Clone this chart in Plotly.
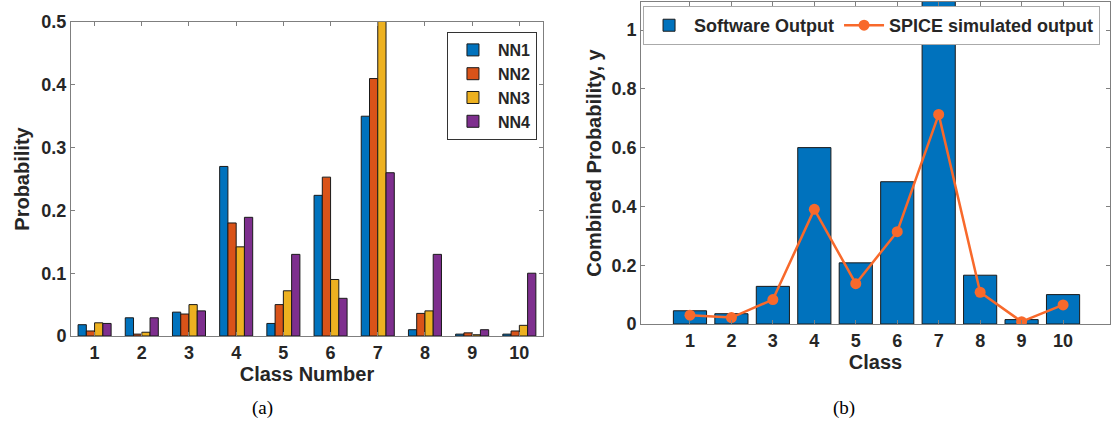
import plotly.graph_objects as go

classes = [1, 2, 3, 4, 5, 6, 7, 8, 9, 10]
nn1 = [0.018, 0.029, 0.038, 0.270, 0.020, 0.224, 0.350, 0.010, 0.003, 0.003]
nn2 = [0.008, 0.003, 0.035, 0.180, 0.050, 0.253, 0.410, 0.036, 0.005, 0.008]
nn3 = [0.021, 0.006, 0.050, 0.142, 0.072, 0.090, 0.520, 0.040, 0.002, 0.017]
nn4 = [0.020, 0.029, 0.040, 0.189, 0.130, 0.060, 0.260, 0.130, 0.010, 0.100]
software_output = [0.045, 0.035, 0.128, 0.600, 0.208, 0.484, 1.130, 0.166, 0.015, 0.100]
spice_output = [0.030, 0.022, 0.083, 0.390, 0.137, 0.314, 0.713, 0.108, 0.008, 0.065]
left_yticks = [0, 0.1, 0.2, 0.3, 0.4, 0.5]
left_yticklabels = ["0", "0.1", "0.2", "0.3", "0.4", "0.5"]
right_yticks = [0, 0.2, 0.4, 0.6, 0.8, 1.0]
right_yticklabels = ["0", "0.2", "0.4", "0.6", "0.8", "1"]

nn_colors = ["#0072BD", "#D95319", "#EDB120", "#7E2F8E"]
txt = "#262626"
axcol = "#7f7f7f"
font_main = "Liberation Sans"

fig = go.Figure()
for name, vals, col in zip(["NN1", "NN2", "NN3", "NN4"], [nn1, nn2, nn3, nn4], nn_colors):
    fig.add_trace(go.Bar(x=classes, y=vals, name=name, marker=dict(color=col, line=dict(color="#1a1a1a", width=1)),
                         xaxis="x", yaxis="y", legend="legend", offsetgroup=name))

fig.add_trace(go.Bar(x=classes, y=software_output, name="Software Output", width=0.8,
                     marker=dict(color="#0072BD", line=dict(color="#1a1a1a", width=1)),
                     xaxis="x2", yaxis="y2", legend="legend2"))
fig.add_trace(go.Scatter(x=classes, y=spice_output, name="SPICE simulated output", mode="lines+markers",
                         line=dict(color="#F8692B", width=2.5), marker=dict(color="#F8692B", size=11),
                         xaxis="x2", yaxis="y2", legend="legend2"))

axis_common = dict(showline=True, linecolor=axcol, linewidth=1, mirror="ticks", ticks="inside", ticklen=4,
                   tickcolor=axcol, showgrid=False, zeroline=False, automargin=False,
                   tickfont=dict(family=font_main, size=18, color=txt, weight="bold"))
title_font = dict(family=font_main, size=20, color=txt, weight="bold")

fig.update_layout(
    width=1111, height=421, margin=dict(l=0, r=0, t=0, b=0),
    paper_bgcolor="white", plot_bgcolor="white",
    barmode="group", bargap=0.3, bargroupgap=0,
    font=dict(family=font_main, color=txt),
    xaxis=dict(domain=[0.0639, 0.4887], range=[0.5, 10.5], tickvals=classes, anchor="y",
               title=dict(text="Class Number", font=title_font, standoff=0), **axis_common),
    yaxis=dict(domain=[0.2019, 0.9477], range=[0, 0.5], tickvals=left_yticks, ticktext=left_yticklabels, anchor="x",
               title=dict(text="Probability", font=title_font, standoff=6), **axis_common),
    xaxis2=dict(domain=[0.577, 0.999], range=[-0.18, 11.13], tickvals=classes, anchor="y2",
                title=dict(text="Class", font=title_font, standoff=4), **axis_common),
    yaxis2=dict(domain=[0.2304, 0.995], range=[0, 1.095], tickvals=right_yticks, ticktext=right_yticklabels, anchor="x2",
                title=dict(text="Combined Probability, y", font=title_font, standoff=4), **axis_common),
    legend=dict(x=0.4023, y=0.924, xanchor="left", yanchor="top", bgcolor="white", bordercolor="#333333",
                borderwidth=1, font=dict(family=font_main, size=16, color=txt, weight="bold"), tracegroupgap=0,
                itemwidth=40),
    legend2=dict(x=0.5788, y=0.9857, xanchor="left", yanchor="top", orientation="h", bgcolor="white",
                 bordercolor="#aaaaaa", borderwidth=1, font=dict(family=font_main, size=18, color=txt, weight="bold"),
                 itemwidth=40),
    annotations=[
        dict(text="(a)", x=262 / 1111, y=1 - 408 / 421, xref="paper", yref="paper", showarrow=False,
             xanchor="center", yanchor="middle",
             font=dict(family="Liberation Serif", size=19, color="black")),
        dict(text="(b)", x=844 / 1111, y=1 - 408 / 421, xref="paper", yref="paper", showarrow=False,
             xanchor="center", yanchor="middle",
             font=dict(family="Liberation Serif", size=19, color="black")),
    ],
)

fig.write_html("out.html", config={"displayModeBar": False},
               post_script="document.body.style.margin='0';")
